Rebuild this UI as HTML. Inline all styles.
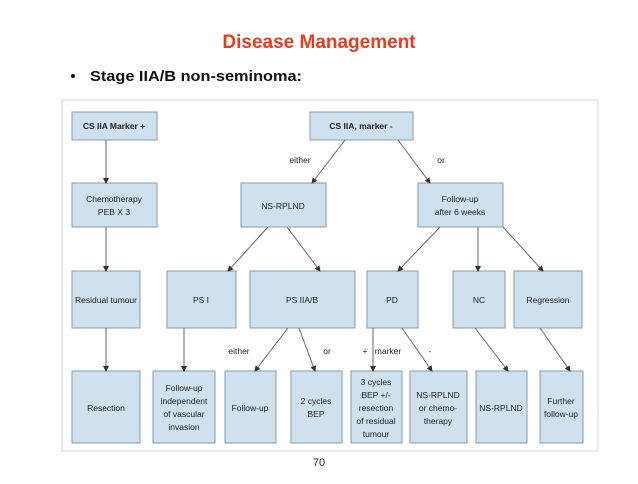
<!DOCTYPE html>
<html><head><meta charset="utf-8"><style>
html,body{margin:0;padding:0;background:#fff;}
body{width:638px;height:479px;overflow:hidden;}
</style></head><body>
<svg width="638" height="479" viewBox="0 0 638 479" xmlns="http://www.w3.org/2000/svg" font-family="Liberation Sans, sans-serif">
<defs><marker id="a" markerWidth="6" markerHeight="6" refX="5" refY="3" orient="auto" markerUnits="userSpaceOnUse"><path d="M0,0 L6,3 L0,6 z" fill="#333"/></marker></defs>
<text x="319" y="48" text-anchor="middle" font-size="19" font-weight="bold" fill="#e0401f">Disease Management</text>
<circle cx="73" cy="76" r="2" fill="#111"/>
<text x="90" y="81" font-size="15" font-weight="bold" fill="#111" textLength="212" lengthAdjust="spacingAndGlyphs">Stage IIA/B non-seminoma:</text>
<rect x="62" y="100" width="536" height="351" fill="#fff" stroke="#e4e4e4" stroke-width="1.5"/>
<g fill="#cfe0ee" stroke="#8a9aa8" stroke-width="1">
<rect x="72" y="112" width="85" height="28"/>
<rect x="310" y="112" width="103" height="28"/>
<rect x="72" y="183" width="85" height="44"/>
<rect x="241" y="183" width="85" height="44"/>
<rect x="418" y="183" width="85" height="44"/>
<rect x="72" y="271" width="68" height="57"/>
<rect x="167" y="271" width="69" height="57"/>
<rect x="250" y="271" width="105" height="57"/>
<rect x="367" y="271" width="51" height="57"/>
<rect x="453" y="271" width="52" height="57"/>
<rect x="514" y="271" width="68" height="57"/>
<rect x="72" y="371" width="68" height="72"/>
<rect x="153" y="371" width="62" height="72"/>
<rect x="225" y="371" width="51" height="72"/>
<rect x="291" y="371" width="51" height="72"/>
<rect x="351" y="371" width="51" height="72"/>
<rect x="410" y="371" width="57" height="72"/>
<rect x="476" y="371" width="51" height="72"/>
<rect x="540" y="371" width="43" height="72"/>
</g>
<g stroke="#666" stroke-width="1" marker-end="url(#a)">
<line x1="106" y1="140" x2="106" y2="183"/>
<line x1="106" y1="227" x2="106" y2="271"/>
<line x1="106" y1="328" x2="106" y2="371"/>
<line x1="345" y1="140" x2="312" y2="183"/>
<line x1="398" y1="140" x2="430" y2="183"/>
<line x1="268" y1="227" x2="228" y2="271"/>
<line x1="287" y1="227" x2="320" y2="271"/>
<line x1="440" y1="227" x2="398" y2="271"/>
<line x1="478" y1="227" x2="478" y2="271"/>
<line x1="503" y1="227" x2="543" y2="271"/>
<line x1="184" y1="328" x2="184" y2="371"/>
<line x1="288" y1="328" x2="255" y2="371"/>
<line x1="299" y1="328" x2="315" y2="371"/>
<line x1="373" y1="328" x2="373" y2="371"/>
<line x1="402" y1="328" x2="432" y2="371"/>
<line x1="475" y1="328" x2="508" y2="371"/>
<line x1="540" y1="328" x2="570" y2="371"/>
</g>
<g font-size="8.5" fill="#222" text-anchor="middle">
<text x="114" y="129" font-weight="bold">CS IIA Marker +</text>
<text x="361" y="129" font-weight="bold">CS IIA, marker -</text>
<text x="114" y="202">Chemotherapy</text><text x="114" y="215">PEB X 3</text>
<text x="283" y="209">NS-RPLND</text>
<text x="460" y="202">Follow-up</text><text x="460" y="215">after 6 weeks</text>
<text x="106" y="303">Residual tumour</text>
<text x="201" y="303">PS I</text>
<text x="302" y="303">PS IIA/B</text>
<text x="392" y="303">PD</text>
<text x="479" y="303">NC</text>
<text x="548" y="303">Regression</text>
<text x="106" y="411">Resection</text>
<text x="184" y="391">Follow-up</text><text x="184" y="404">independent</text><text x="184" y="417">of vascular</text><text x="184" y="430">invasion</text>
<text x="250" y="411">Follow-up</text>
<text x="316" y="404">2 cycles</text><text x="316" y="417">BEP</text>
<text x="376" y="385">3 cycles</text><text x="376" y="398">BEP +/-</text><text x="376" y="411">resection</text><text x="376" y="424">of residual</text><text x="376" y="437">tumour</text>
<text x="438" y="398">NS-RPLND</text><text x="438" y="411">or chemo-</text><text x="438" y="424">therapy</text>
<text x="501" y="411">NS-RPLND</text>
<text x="561" y="404">Further</text><text x="561" y="417">follow-up</text>
<text x="300" y="163">either</text>
<text x="441" y="163">or</text>
<text x="239" y="354">either</text>
<text x="327" y="354">or</text>
<text x="365" y="354">+</text>
<text x="388" y="354">marker</text>
<text x="430" y="354">-</text>
</g>
<text x="319" y="466" text-anchor="middle" font-size="11" fill="#222">70</text>
</svg>
</body></html>
